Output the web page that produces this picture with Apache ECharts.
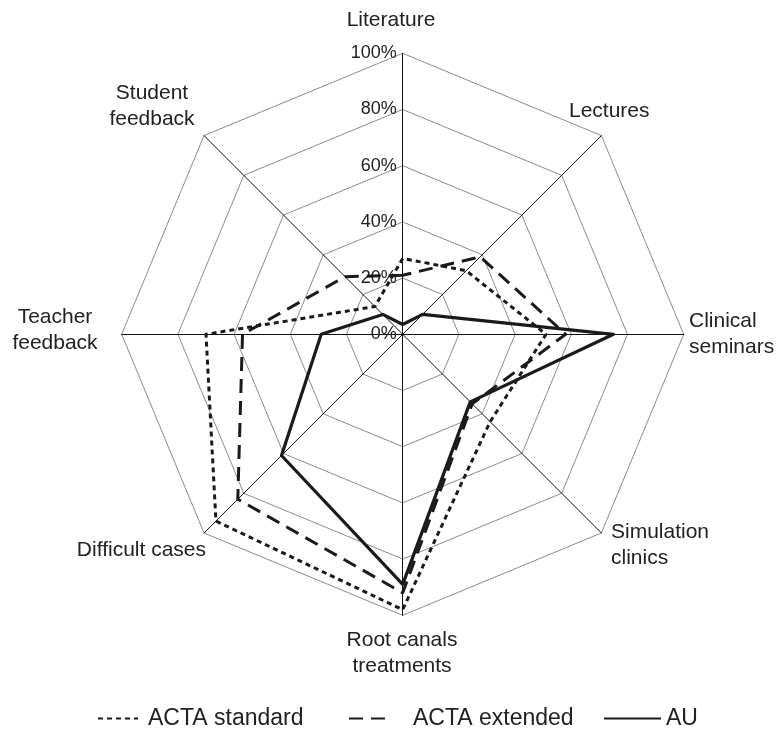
<!DOCTYPE html>
<html><head><meta charset="utf-8">
<script src="https://cdn.jsdelivr.net/npm/echarts@6/dist/echarts.min.js"></script>
<style>html,body{margin:0;padding:0;background:#fff}#c{width:778px;height:730px}</style>
</head><body><div id="c"></div>
<script>
// Data (clockwise from top)
const categories = ['Literature', 'Lectures', 'Clinical seminars', 'Simulation clinics', 'Root canals treatments', 'Difficult cases', 'Teacher feedback', 'Student feedback'];
const actaStandard = [27, 32, 51, 44, 98, 94, 70, 14];
const actaExtended = [21, 39, 58, 35, 92, 83, 57, 29];
const au = [3.5, 10, 75, 34, 89, 61, 29, 10];
const tickMax = 100;
const tickStep = 20;
const seriesNames = ['ACTA standard', 'ACTA extended', 'AU'];

// layout
const CX = 402.7, CY = 334.3, R = 281;
const FONT = '"Liberation Sans", Arial, sans-serif';
const INK = '#1a1a1a';

// ECharts radar lays indicators counter-clockwise; reorder to draw clockwise
const order = [0, 7, 6, 5, 4, 3, 2, 1];
const reord = arr => order.map(i => arr[i]);

const styles = [
  { type: [5, 4], width: 3 },
  { type: [14, 8], width: 3 },
  { type: 'solid', width: 3.2 }
];
const values = [actaStandard, actaExtended, au];

const labelDefs = [
  { t: 'Literature', x: 391, y: 20, a: 'center' },
  { t: 'Lectures', x: 569, y: 111, a: 'left' },
  { t: 'Clinical\nseminars', x: 689, y: 334, a: 'left' },
  { t: 'Simulation\nclinics', x: 611, y: 545, a: 'left' },
  { t: 'Root canals\ntreatments', x: 402, y: 653, a: 'center' },
  { t: 'Difficult cases', x: 206, y: 550, a: 'right' },
  { t: 'Teacher\nfeedback', x: 55, y: 330, a: 'center' },
  { t: 'Student\nfeedback', x: 152, y: 106, a: 'center' }
];

const chart = echarts.init(document.getElementById('c'), null, { renderer: 'canvas' });

const lineDummies = seriesNames.map((n, k) => ({
  type: 'line', name: n, data: [], symbol: 'none', symbolSize: 0,
  xAxisIndex: 0, yAxisIndex: 0,
  lineStyle: { color: INK, type: styles[k].type, width: styles[k].width },
  itemStyle: { color: INK }
}));

const legendLeft = [97, 348, 603];
const legendIconW = [40, 42, 57];
const legendTextPad = [5, 17, 0];
const legends = seriesNames.map((n, k) => ({
  data: [n], left: legendLeft[k], top: 707, padding: 0, itemWidth: legendIconW[k], itemHeight: 14, itemGap: 0,
  itemStyle: { opacity: 0, borderWidth: 0 },
  textStyle: { fontFamily: FONT, fontSize: 23, color: '#222', padding: [0, 0, 0, legendTextPad[k]] }
}));

chart.setOption({
  animation: false,
  backgroundColor: '#fff',
  legend: legends,
  grid: { left: CX, top: CY - R, width: 1, height: R, containLabel: false },
  xAxis: { type: 'value', min: 0, max: 1, show: false },
  yAxis: {
    type: 'value', min: 0, max: tickMax, interval: tickStep,
    axisLine: { show: false }, axisTick: { show: false }, splitLine: { show: false },
    axisLabel: { formatter: '{value}%', fontFamily: FONT, fontSize: 18, color: '#222', margin: 6 }
  },
  radar: {
    center: [CX, CY], radius: R, startAngle: 90, splitNumber: 5, shape: 'polygon',
    indicator: reord(categories).map(n => ({ name: n, min: 0, max: tickMax })),
    axisName: { show: false },
    axisLine: { lineStyle: { color: '#111', width: 1 } },
    splitLine: { lineStyle: { color: '#8c8c8c', width: 1 } },
    splitArea: { show: false },
    axisTick: { show: false }, axisLabel: { show: false }
  },
  series: lineDummies.concat([{
    type: 'radar', symbol: 'none', silent: true,
    data: values.map((v, k) => ({
      name: seriesNames[k], value: reord(v),
      lineStyle: { color: INK, type: styles[k].type, width: styles[k].width },
      itemStyle: { color: INK }
    }))
  }]),
  graphic: labelDefs.map(d => ({
    type: 'text', x: d.x, y: d.y, silent: true,
    style: { text: d.t, fill: '#222', font: '21px ' + FONT, align: d.a, verticalAlign: 'middle', lineHeight: 26, textAlign: d.a, textVerticalAlign: 'middle' }
  }))
});
</script></body></html>
